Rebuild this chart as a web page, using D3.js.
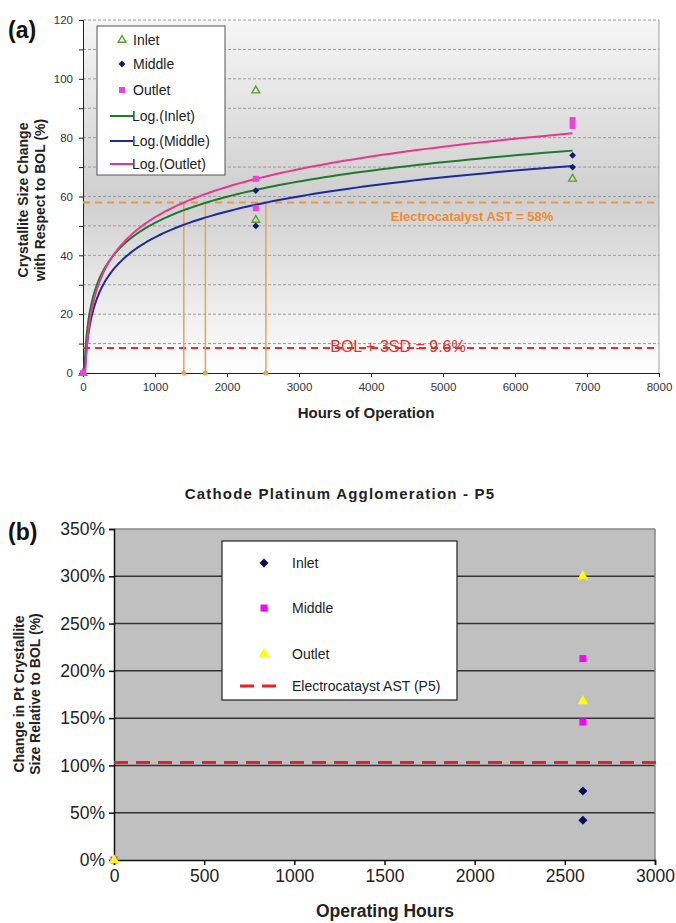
<!DOCTYPE html>
<html><head><meta charset="utf-8">
<script src="https://cdn.jsdelivr.net/npm/d3@7"></script>
<style>
html,body{margin:0;padding:0;background:#fff;}
svg{display:block;}
text{font-family:"Liberation Sans",Arial,sans-serif;}
</style></head>
<body>
<svg id="c" width="676" height="923"></svg>
<script>
// ---------- Chart (a) data ----------
const hoursTicksA = [0,1000,2000,3000,4000,5000,6000,7000,8000];
const yTicksA = [0,20,40,60,80,100,120];
const inletA  = [[0,0],[2400,96],[2400,52],[6800,66]];
const middleA = [[0,0],[2400,62],[2400,50],[6800,74],[6800,70]];
const outletA = [[0,0],[2400,66],[2400,56],[6800,86],[6800,84]];
// logarithmic trendline coefficients y = a*ln(x) + b  (Inlet, Middle, Outlet)
const trendNames = ["Log.(Inlet)","Log.(Middle)","Log.(Outlet)"];
const trendA = [12.81, 12.67, 14.9];
const trendB = [-37.45, -41.4, -50.0];
const trendEnd = 6800;
const astLevelA = 58;
const bolLevelA = 8.5;
const crossHours = [1400, 1700, 2540];

// ---------- Chart (b) data ----------
const hoursTicksB = [0,500,1000,1500,2000,2500,3000];
const yTicksB = [0,0.5,1,1.5,2,2.5,3,3.5];
const inletB  = [[2600,0.73],[2600,0.42]];
const middleB = [[0,0],[2600,2.13],[2600,1.46]];
const outletB = [[0,0],[2600,3.00],[2600,1.68]];
const astLevelB = 1.03;

const svg = d3.select("#c");
const defs = svg.append("defs");
const diamond = r => `M0,${-r}L${r},0L0,${r}L${-r},0Z`;

// ================= Chart (a) =================
const xA = d3.scaleLinear().domain([0,8000]).range([83,659]);
const yA = d3.scaleLinear().domain([0,120]).range([373,20]);

const grad = defs.append("linearGradient").attr("id","bgA").attr("x1",0).attr("y1",0).attr("x2",0).attr("y2",1);
grad.append("stop").attr("offset","0%").attr("stop-color","#f6f6f6");
grad.append("stop").attr("offset","50%").attr("stop-color","#cfcfcf");
grad.append("stop").attr("offset","100%").attr("stop-color","#ffffff");

const gA = svg.append("g");
gA.append("rect").attr("x",xA(0)).attr("y",yA(120)).attr("width",xA(8000)-xA(0)).attr("height",yA(0)-yA(120)).attr("fill","url(#bgA)");

gA.selectAll(".gridA").data(d3.range(10,121,10)).join("line")
  .attr("x1",xA(0)).attr("x2",xA(8000)).attr("y1",d=>yA(d)).attr("y2",d=>yA(d))
  .attr("stroke","#9a9a9a").attr("stroke-width",1).attr("stroke-dasharray","3,2");
gA.append("line").attr("x1",xA(8000)).attr("x2",xA(8000)).attr("y1",yA(120)).attr("y2",yA(0)).attr("stroke","#a0a0a0");

const axA = gA.append("g").attr("transform",`translate(0,${yA(0)})`)
  .call(d3.axisBottom(xA).tickValues(hoursTicksA).tickSize(4).tickPadding(6).tickFormat(d3.format("d")));
axA.select(".domain").attr("stroke","#222");
axA.selectAll(".tick line").attr("stroke","#222");
axA.selectAll("text").attr("font-size",11.5).attr("fill","#333").attr("font-family","Liberation Sans, Arial, sans-serif");

const ayA = gA.append("g").attr("transform",`translate(${xA(0)},0)`)
  .call(d3.axisLeft(yA).tickValues(d3.range(0,121,10)).tickSize(4).tickPadding(6).tickFormat(d=> yTicksA.includes(d)? d : ""));
ayA.select(".domain").attr("stroke","#222");
ayA.selectAll(".tick line").attr("stroke","#222");
ayA.selectAll("text").attr("font-size",11.5).attr("fill","#333").attr("font-family","Liberation Sans, Arial, sans-serif");

gA.append("line").attr("x1",xA(0)).attr("x2",xA(8000)).attr("y1",yA(astLevelA)).attr("y2",yA(astLevelA))
  .attr("stroke","#f0963c").attr("stroke-width",2).attr("stroke-dasharray","7,5");
gA.append("line").attr("x1",xA(0)).attr("x2",xA(8000)).attr("y1",yA(bolLevelA)).attr("y2",yA(bolLevelA))
  .attr("stroke","#e03030").attr("stroke-width",2).attr("stroke-dasharray","7,5");
gA.selectAll(".cross").data(crossHours).join("line")
  .attr("x1",d=>xA(d)).attr("x2",d=>xA(d)).attr("y1",yA(0)).attr("y2",yA(astLevelA))
  .attr("stroke","#f0a050").attr("stroke-width",1.5);
gA.selectAll(".crossDot").data(crossHours).join("circle")
  .attr("cx",d=>xA(d)).attr("cy",yA(0)).attr("r",2.5).attr("fill","#f0a050");

gA.append("text").attr("x",472).attr("y",yA(astLevelA)+19).attr("text-anchor","middle")
  .attr("font-size",13).attr("font-weight","bold").attr("fill","#f08a30").text("Electrocatalyst AST = 58%");
gA.append("text").attr("x",398).attr("y",yA(bolLevelA)+4).attr("text-anchor","middle")
  .attr("font-size",16).attr("fill","#e03030").text("BOL + 3SD = 9.6%");

const trendColors = ["#1f7a30","#1c2aa0","#e8388c"];
const lineA = d3.line().x(d=>xA(d[0])).y(d=>yA(d[1]));
trendA.forEach((a,i)=>{
  const b = trendB[i];
  const x0 = Math.exp(-b/a);
  const pts = d3.range(0,201).map(k=>{
    const x = x0*Math.pow(trendEnd/x0, k/200);
    return [x, a*Math.log(x)+b];
  });
  gA.append("path").attr("d",lineA(pts)).attr("fill","none").attr("stroke",trendColors[i]).attr("stroke-width",2);
});

const triA = d3.symbol().type(d3.symbolTriangle).size(26);
gA.selectAll(".inA").data(inletA).join("path")
  .attr("transform",d=>`translate(${xA(d[0])},${yA(d[1])})`).attr("d",triA)
  .attr("fill","none").attr("stroke","#5aa02a").attr("stroke-width",1.4);
gA.selectAll(".midA").data(middleA).join("path")
  .attr("transform",d=>`translate(${xA(d[0])},${yA(d[1])})`).attr("d",diamond(3.4)).attr("fill","#101870");
gA.selectAll(".outA").data(outletA).join("rect")
  .attr("x",d=>xA(d[0])-3).attr("y",d=>yA(d[1])-3).attr("width",6).attr("height",6).attr("fill","#f040e0");

// legend (a)
const lgA = gA.append("g");
lgA.append("rect").attr("x",97).attr("y",26).attr("width",128).attr("height",149).attr("fill","#ffffff").attr("stroke","#555").attr("stroke-width",1);
const lgItemsA = ["Inlet","Middle","Outlet"].concat(trendNames);
const lgYA = [40,64,90,116,141,164];
lgItemsA.forEach((t,i)=>{
  const y = lgYA[i];
  if(i===0) lgA.append("path").attr("transform",`translate(122,${y})`).attr("d",triA).attr("fill","none").attr("stroke","#5aa02a").attr("stroke-width",1.4);
  if(i===1) lgA.append("path").attr("transform",`translate(122,${y})`).attr("d",diamond(3.4)).attr("fill","#101870");
  if(i===2) lgA.append("rect").attr("x",119).attr("y",y-3).attr("width",6).attr("height",6).attr("fill","#f040e0");
  if(i>=3) lgA.append("line").attr("x1",110).attr("x2",133).attr("y1",y).attr("y2",y).attr("stroke",trendColors[i-3]).attr("stroke-width",2);
  lgA.append("text").attr("x",i>=3?132:133).attr("y",y+5).attr("font-size",14).attr("fill","#222").text(t);
});

gA.append("text").attr("x",366).attr("y",418).attr("text-anchor","middle").attr("font-size",15).attr("font-weight","bold").attr("fill","#222").text("Hours of Operation");
const ytA = gA.append("text").attr("transform","translate(0,200) rotate(-90)").attr("text-anchor","middle").attr("font-size",14).attr("font-weight","bold").attr("fill","#222");
ytA.append("tspan").attr("x",0).attr("y",28).text("Crystallite Size Change");
ytA.append("tspan").attr("x",0).attr("y",45).text("with Respect to BOL (%)");
svg.append("text").attr("x",8).attr("y",38).attr("font-size",23).attr("font-weight","bold").attr("fill","#111").text("(a)");

// ================= Chart (b) =================
svg.append("text").attr("x",340).attr("y",499).attr("text-anchor","middle").attr("font-size",15).attr("font-weight","bold").attr("letter-spacing",1.2).attr("fill","#222").text("Cathode Platinum Agglomeration - P5");

const xB = d3.scaleLinear().domain([0,3000]).range([114,655]);
const yB = d3.scaleLinear().domain([0,3.5]).range([860,529]);
const gB = svg.append("g");
gB.append("rect").attr("x",xB(0)).attr("y",yB(3.5)).attr("width",xB(3000)-xB(0)).attr("height",yB(0)-yB(3.5)).attr("fill","#c0c0c0");
gB.selectAll(".gridB").data(d3.range(1,7).map(k=>k*0.5)).join("line")
  .attr("x1",xB(0)).attr("x2",xB(3000)).attr("y1",d=>yB(d)).attr("y2",d=>yB(d)).attr("stroke","#333").attr("stroke-width",1.5);
gB.append("line").attr("x1",xB(0)).attr("x2",xB(3000)).attr("y1",yB(3.5)).attr("y2",yB(3.5)).attr("stroke","#888").attr("stroke-width",1.5);
gB.append("line").attr("x1",xB(3000)).attr("x2",xB(3000)).attr("y1",yB(3.5)).attr("y2",yB(0)).attr("stroke","#888").attr("stroke-width",1.5);

const axB = gB.append("g").attr("transform",`translate(0,${yB(0)})`)
  .call(d3.axisBottom(xB).tickValues(hoursTicksB).tickSize(5).tickPadding(5).tickFormat(d3.format("d")));
axB.select(".domain").attr("stroke","#111").attr("stroke-width",1.5);
axB.selectAll(".tick line").attr("stroke","#111").attr("stroke-width",1.5);
axB.selectAll("text").attr("font-size",17.5).attr("fill","#222").attr("font-family","Liberation Sans, Arial, sans-serif");

const ayB = gB.append("g").attr("transform",`translate(${xB(0)},0)`)
  .call(d3.axisLeft(yB).tickValues(yTicksB).tickSize(5).tickPadding(4).tickFormat(d3.format(".0%")));
ayB.select(".domain").attr("stroke","#111").attr("stroke-width",1.5);
ayB.selectAll(".tick line").attr("stroke","#111").attr("stroke-width",1.5);
ayB.selectAll("text").attr("font-size",17.5).attr("fill","#222").attr("font-family","Liberation Sans, Arial, sans-serif");

gB.append("line").attr("x1",xB(0)).attr("x2",xB(3000)+3).attr("y1",yB(astLevelB)).attr("y2",yB(astLevelB))
  .attr("stroke","#e8202a").attr("stroke-width",3).attr("stroke-dasharray","14,8");

const triB = d3.symbol().type(d3.symbolTriangle).size(48);
gB.selectAll(".inB").data(inletB).join("path").attr("transform",d=>`translate(${xB(d[0])},${yB(d[1])})`).attr("d",diamond(4.5)).attr("fill","#0a0a60");
gB.selectAll(".midB").data(middleB).join("rect").attr("x",d=>xB(d[0])-3.5).attr("y",d=>yB(d[1])-3.5).attr("width",7).attr("height",7).attr("fill","#ff00ff");
gB.selectAll(".outB").data(outletB).join("path").attr("transform",d=>`translate(${xB(d[0])},${yB(d[1])})`).attr("d",triB).attr("fill","#ffff00");

// legend (b)
const lgB = gB.append("g");
lgB.append("rect").attr("x",222).attr("y",541).attr("width",235).attr("height",159).attr("fill","#fff").attr("stroke","#222").attr("stroke-width",1.2);
lgB.append("path").attr("transform","translate(264,563)").attr("d",diamond(4.5)).attr("fill","#0a0a60");
lgB.append("rect").attr("x",260.5).attr("y",604.5).attr("width",7).attr("height",7).attr("fill","#ff00ff");
lgB.append("path").attr("transform","translate(264,654)").attr("d",triB).attr("fill","#ffff00");
lgB.append("line").attr("x1",240).attr("x2",284).attr("y1",686).attr("y2",686).attr("stroke","#e8202a").attr("stroke-width",3).attr("stroke-dasharray","14,8");
const lgTB = [["Inlet",563],["Middle",608],["Outlet",654],["Electrocatayst AST (P5)",686]];
lgTB.forEach(([t,y])=>{
  lgB.append("text").attr("x",292).attr("y",y+5).attr("font-size",14).attr("fill","#222").text(t);
});

gB.append("text").attr("x",385).attr("y",917).attr("text-anchor","middle").attr("font-size",17.5).attr("font-weight","bold").attr("fill","#222").text("Operating Hours");
const ytB = gB.append("text").attr("transform","translate(0,694) rotate(-90)").attr("text-anchor","middle").attr("font-size",14).attr("font-weight","bold").attr("fill","#222");
ytB.append("tspan").attr("x",0).attr("y",24).text("Change in Pt Crystallite");
ytB.append("tspan").attr("x",0).attr("y",40).text("Size Relative to BOL (%)");
svg.append("text").attr("x",8).attr("y",540).attr("font-size",23).attr("font-weight","bold").attr("fill","#111").text("(b)");
</script>
</body></html>
